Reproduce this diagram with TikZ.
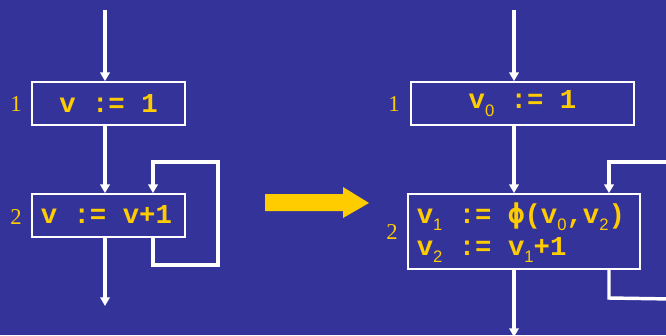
\documentclass[tikz,border=0pt]{standalone}
\usepackage{fontspec}
\setmainfont{Liberation Serif}
\newfontfamily\codefont{Liberation Mono}
\newfontfamily\subfont{Liberation Sans}
\newfontfamily\phifont{DejaVu Sans Mono}
\usetikzlibrary{arrows.meta}
\definecolor{slidebg}{HTML}{333399}
\definecolor{gold}{HTML}{FFCC00}
% subscript index in code
\newcommand{\ix}[1]{\raisebox{-5.4pt}{\fontsize{12.5}{12.5}\subfont\mdseries #1}}
\newcommand{\philetter}{{\phifont\bfseries ϕ}}
\begin{document}
\begin{tikzpicture}[x=0.75pt,y=-0.75pt,
  code/.style={text=gold,inner sep=0pt,font=\fontsize{20.5}{24}\codefont\bfseries},
  box/.style={code,draw=white,line width=1.3pt,minimum height=32.25pt},
  conn/.style={draw=white,line width=2.6pt,-{Triangle[width=7pt,length=6.5pt]}},
  line/.style={draw=white,line width=2.6pt},
  num/.style={text=gold,font=\fontsize{17}{17}\selectfont,inner sep=0pt}]
\fill[slidebg] (0,0) rectangle (666,335);
\clip (0,0) rectangle (666,335);
\useasboundingbox (0,0) rectangle (666,335);

% ---- original program ----
\node[box,minimum width=114.75pt] (a1) at (108.5,103.5) {v := 1};
\node[box,minimum width=114.75pt] (a2) at (108.5,215.5) {};
\node[code,anchor=base west] (a2text) at (40.5,223) {v := v+1};
\node[num] (na1) at (16,104) {1};
\node[num] (na2) at (16,217) {2};

\coordinate (ain) at (105,10);
\coordinate (aout) at (105,306);
\coordinate (la) at (153,265);
\coordinate (lb) at (218,265);
\coordinate (lc) at (218,162);
\coordinate (ld) at (153,162);

\draw[conn] (ain) -- (ain |- a1.north);
\draw[conn] (ain |- a1.south) -- (ain |- a2.north);
\draw[conn] (ain |- a2.south) -- (aout);
\draw[conn] (la |- a2.south) -- (la) -- (lb) -- (lc) -- (ld) -- (ld |- a2.north);

% ---- transformation arrow ----
\fill[gold] (265,194) -- (343,194) -- (343,187) -- (369,203) -- (343,218) -- (343,211) -- (265,211) -- cycle;

% ---- SSA form ----
\node[box,minimum width=167.25pt] (b1) at (522.5,103.5) {v\ix{0} := 1};
\node[box,minimum width=174pt,minimum height=56.25pt] (b2) at (524,231.5) {};
\node[code,anchor=base west] (b2first) at (416.5,223) {v\ix{1} := \philetter(v\ix{0},v\ix{2})};
\node[code,anchor=base west] (b2second) at (416.5,255) {v\ix{2} := v\ix{1}+1};
\node[num] (nb1) at (394,104) {1};
\node[num] (nb2) at (392,232) {2};

\coordinate (bin) at (514,10);
\coordinate (bout) at (514,337);
\coordinate (ra) at (609,298);
\coordinate (rb) at (672,299);
\coordinate (rc) at (672,162);
\coordinate (rd) at (609,162);

\draw[conn] (bin) -- (bin |- b1.north);
\draw[conn] (bin |- b1.south) -- (bin |- b2.north);
\draw[conn] (bin |- b2.south) -- (bout);
\draw[line] (ra |- b2.south) -- (ra) -- (rb);
\draw[conn] (rc) -- (rd) -- (rd |- b2.north);
\end{tikzpicture}
\end{document}
